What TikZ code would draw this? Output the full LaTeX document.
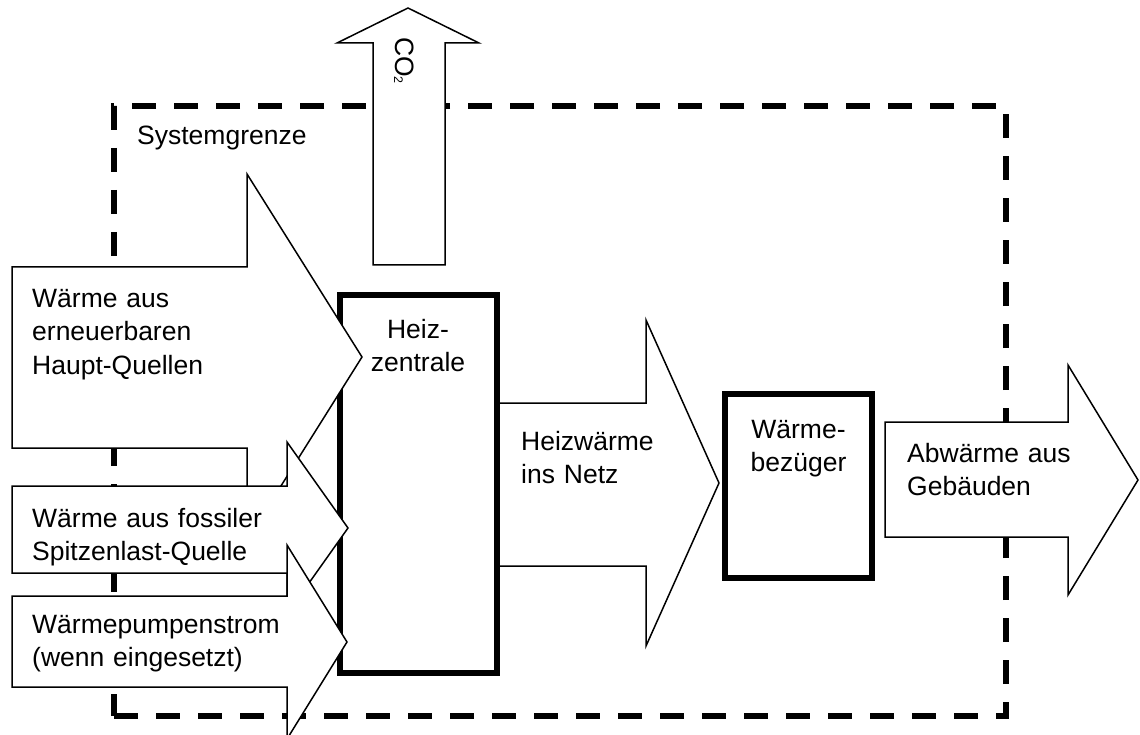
\documentclass[tikz,border=0pt]{standalone}
\usepackage{fontspec}
\setmainfont{Liberation Sans}
\begin{document}
\begin{tikzpicture}[x=1pt,y=-1pt,
  flow/.style={draw=black,fill=white,line width=1.5pt,line join=miter},
  unitbox/.style={draw=black,fill=white,line width=5.5pt,line join=miter},
  border/.style={draw=black,line width=6pt,dash pattern=on 24pt off 18pt,line join=miter},
  lbl/.style={inner sep=0pt,text width=300pt,font=\fontsize{26.5}{33.5}\selectfont},
  lblL/.style={lbl,align=left,anchor=base west},
  lblC/.style={lbl,align=center,anchor=base}]
\useasboundingbox (0,0) rectangle (1140,735);
\fill[white] (0,0) rectangle (1140,735);
% system boundary
\draw[border] (114,716) -- (1006,716) -- (1006,106) -- (114,106) -- cycle;
\node[lblL] (sys) at (137,145) {Systemgrenze};
% CO2 arrow
\draw[flow] (373,265) -- (373,43) -- (337,43) -- (408,8) -- (479,43) -- (445,43) -- (445,265) -- cycle;
\node[inner sep=0pt,rotate=-90,anchor=base west,font=\fontsize{26.5}{30}\selectfont] (co2) at (395,37) {CO{\fontsize{12.5}{13}\selectfont\raisebox{-1pt}{2}}};
% heat into network
\draw[flow] (497,403) -- (646,403) -- (646,320) -- (719,483) -- (646,646) -- (646,566) -- (497,566) -- cycle;
\node[lblL] (netz) at (521,450) {Heizwärme\\ins Netz};
% heating plant
\draw[unitbox] (340,295) rectangle (497,673);
\node[lblC] (hz) at (418,338) {Heiz-\\zentrale};
% renewable main sources
\draw[flow] (12,267) -- (247,267) -- (247,174) -- (362,357) -- (247,540) -- (247,448) -- (12,448) -- cycle;
\node[lblL] (haupt) at (32,307) {Wärme aus\\erneuerbaren\\Haupt-Quellen};
% fossil peak load
\draw[flow] (12,486) -- (287,486) -- (287,442) -- (348,528) -- (287,614) -- (287,573) -- (12,573) -- cycle;
\node[lblL] (fossil) at (32,527) {Wärme aus fossiler\\Spitzenlast-Quelle};
% heat pump electricity
\draw[flow] (12,596) -- (287,596) -- (287,545) -- (347,642) -- (287,739) -- (287,687) -- (12,687) -- cycle;
\node[lblL] (wp) at (32,633) {Wärmepumpenstrom\\(wenn eingesetzt)};
% consumers
\draw[unitbox] (725,394) rectangle (872,578);
\node[lblC] (bez) at (798.5,438) {Wärme-\\bezüger};
% waste heat
\draw[flow] (885,422) -- (1068,422) -- (1068,365) -- (1138,480) -- (1068,595) -- (1068,537) -- (885,537) -- cycle;
\node[lblL] (abw) at (907,462) {Abwärme aus\\Gebäuden};
\end{tikzpicture}
\end{document}
